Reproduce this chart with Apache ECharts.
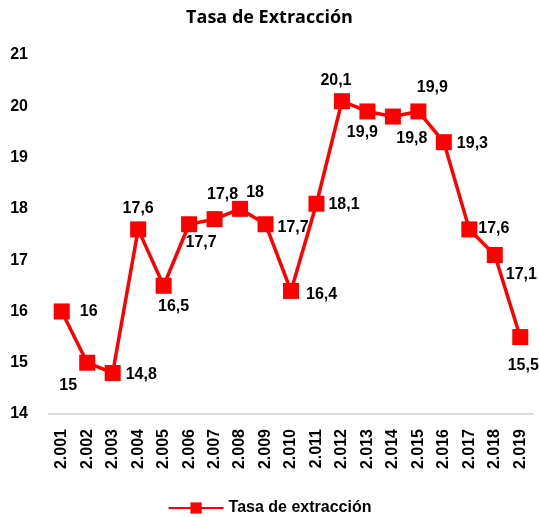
<!DOCTYPE html>
<html>
<head>
<meta charset="utf-8">
<script src="https://cdn.jsdelivr.net/npm/echarts@6/dist/echarts.min.js"></script>
<style>
  html, body { margin: 0; padding: 0; background: #fff; }
  #box { width: 539px; height: 517px; }
</style>
</head>
<body>
<div id="box"></div>
<script>
// datos
const years = ['2.001', '2.002', '2.003', '2.004', '2.005', '2.006', '2.007', '2.008', '2.009', '2.010',
  '2.011', '2.012', '2.013', '2.014', '2.015', '2.016', '2.017', '2.018', '2.019'];
const tasa = [16, 15, 14.8, 17.6, 16.5, 17.7, 17.8, 18, 17.7, 16.4, 18.1, 20.1, 19.9, 19.8, 19.9, 19.3, 17.6, 17.1, 15.5];
const yTicks = [14, 15, 16, 17, 18, 19, 20, 21];

// ubicacion de cada etiqueta (solo estilo)
const labelPlace = [
  ['right', [5, 0]], ['bottom', [-19, 2]], ['right', [0, 2]], ['top', [0, 0]],
  ['bottom', [10, 0]], ['bottom', [12, -3]], ['top', [8, -4]], ['top', [15, 5]],
  ['right', [-1, 3]], ['right', [2, 4]], ['right', [-1, 1]], ['top', [-6, 0]],
  ['bottom', [-5, 0]], ['bottom', [19, 1]], ['top', [14, -3]], ['right', [0, 1]],
  ['right', [-4, -1]], ['right', [-2, 20]], ['bottom', [3, 8]]
];

const font = "'Liberation Sans', Arial, sans-serif";

const myChart = echarts.init(document.getElementById('box'));

const option = {
  animation: false,
  title: {
    text: 'Tasa de Extracción',
    left: 'center',
    top: 4,
    textStyle: { fontFamily: "'Open Sans', sans-serif", fontSize: 18, fontWeight: 'bold', color: '#000' }
  },
  legend: {
    bottom: -4,
    left: 'center',
    itemWidth: 55,
    itemHeight: 14,
    textStyle: { fontFamily: font, fontSize: 16, fontWeight: 'bold', color: '#000' },
    data: ['Tasa de extracción']
  },
  grid: { left: 49, right: 6, top: 55, bottom: 103 },
  xAxis: {
    type: 'category',
    data: years,
    axisTick: { show: false },
    axisLine: { lineStyle: { color: '#d9d9d9', width: 2 } },
    axisLabel: {
      rotate: 90,
      interval: 0,
      margin: 15,
      fontFamily: font,
      fontSize: 16,
      fontWeight: 'bold',
      color: '#000'
    }
  },
  yAxis: {
    type: 'value',
    min: yTicks[0],
    max: yTicks[yTicks.length - 1],
    interval: 1,
    splitLine: { show: false },
    axisLine: { show: false },
    axisTick: { show: false },
    axisLabel: { margin: 21, fontFamily: font, fontSize: 16, fontWeight: 'bold', color: '#000' }
  },
  series: [
    {
      name: 'Tasa de extracción',
      type: 'line',
      symbol: 'rect',
      symbolSize: 16,
      itemStyle: { color: '#ff0000' },
      lineStyle: { color: '#ff0000', width: 3.5 },
      data: tasa.map((v, i) => ({
        value: v,
        label: {
          show: true,
          position: labelPlace[i][0],
          offset: labelPlace[i][1],
          distance: 5,
          formatter: (p) => String(p.value).replace('.', ','),
          fontFamily: font,
          fontSize: 16,
          fontWeight: 'bold',
          color: '#000'
        }
      }))
    }
  ]
};

myChart.setOption(option);
</script>
</body>
</html>
